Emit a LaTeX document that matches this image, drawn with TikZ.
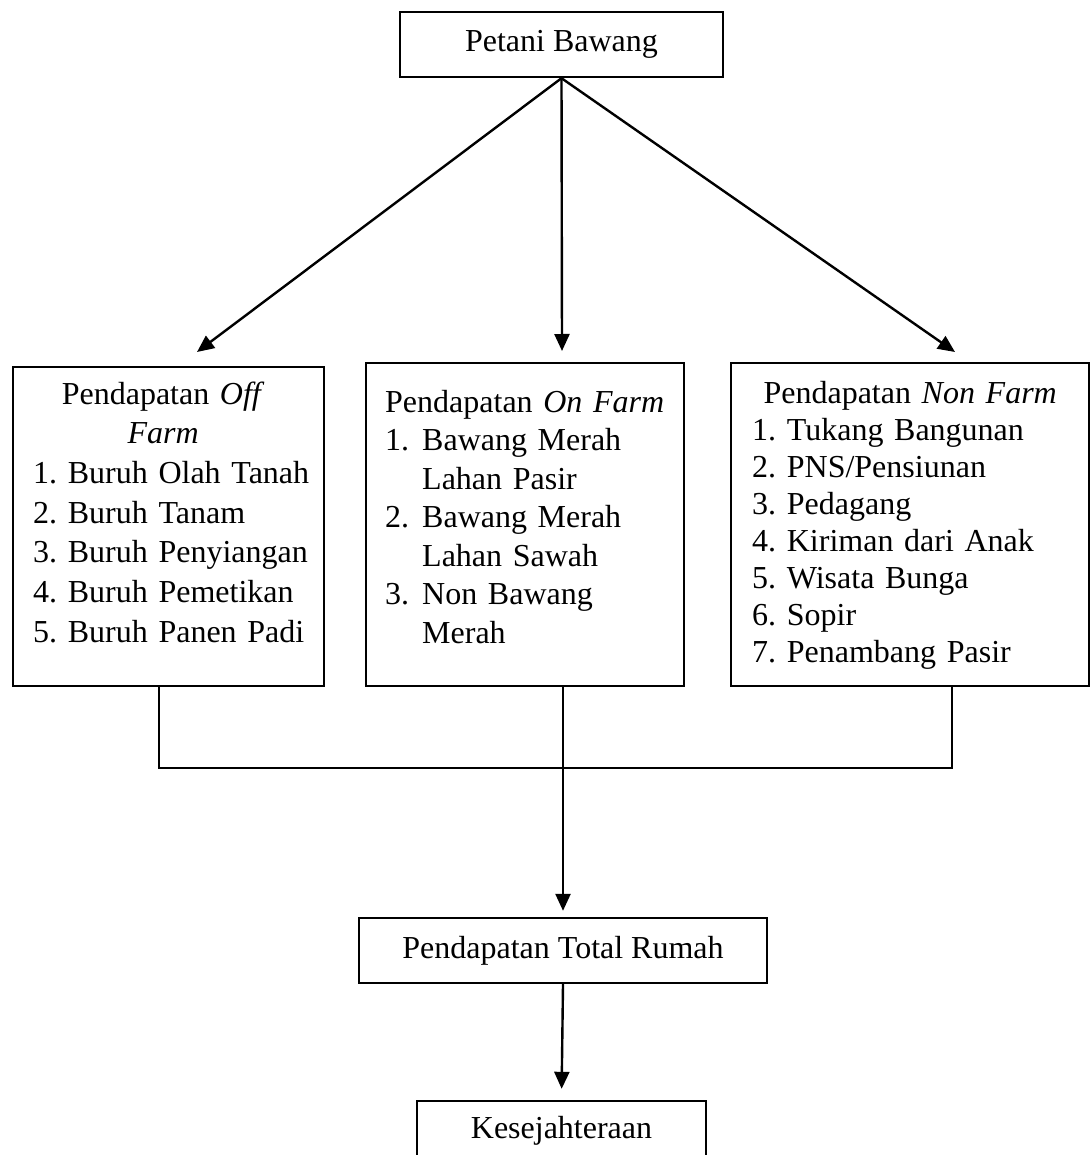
\documentclass[tikz,border=0pt]{standalone}
\usepackage{fontspec}
\setmainfont{Liberation Serif}
\usetikzlibrary{positioning,calc,arrows.meta}
\tikzset{ARROW/.style={line width=2.4pt, -{Triangle[length=17pt,width=15pt]}}}
\tikzset{LINE/.style={line width=2.4pt}}
\tikzset{BOX/.style={rectangle, draw, line width=2.4pt, inner sep=0pt, text height=22pt, text depth=7pt}}
\tikzset{LIST/.style={inner sep=0pt, anchor=base west, align=left}}
\newcommand{\numcell}[1]{\makebox[37pt][l]{#1}}

\begin{document}
\frenchspacing
\begin{tikzpicture}[x=1pt, y=-1pt, font=\fontsize{32}{39}\selectfont]
    \useasboundingbox (0,0) rectangle (1090,1155);
    \clip (0,0) rectangle (1090,1155);

    \node[BOX, minimum width=323pt, minimum height=65pt] (n_top) at (561.5,44.5) {Petani Bawang};

    % three income boxes
    \node[BOX, minimum width=311pt, minimum height=319pt, anchor=north west] (n_off) at (12,366) {};
    \node[BOX, minimum width=318pt, minimum height=323pt, anchor=north west] (n_on) at (365,362) {};
    \node[BOX, minimum width=358pt, minimum height=323pt, anchor=north west] (n_non) at (730,362) {};

    \node[LIST, text width=290pt, font=\fontsize{32}{39.7}\selectfont] (t_off) at (33,404) {
        \makebox[260pt]{Pendapatan \textit{Off}}\\
        \makebox[260pt]{\textit{Farm}}\\
        1. Buruh Olah Tanah\\
        2. Buruh Tanam\\
        3. Buruh Penyiangan\\
        4. Buruh Pemetikan\\
        5. Buruh Panen Padi
    };
    \node[LIST, text width=300pt, font=\fontsize{32}{38.5}\selectfont] (t_on) at (385,412) {
        Pendapatan \textit{On Farm}\\
        \numcell{1.}Bawang Merah\\
        \numcell{}Lahan Pasir\\
        \numcell{2.}Bawang Merah\\
        \numcell{}Lahan Sawah\\
        \numcell{3.}Non Bawang\\
        \numcell{}Merah
    };
    \node[LIST, text width=330pt, font=\fontsize{32}{37}\selectfont] (t_non) at (752,403) {
        \makebox[316pt]{Pendapatan \textit{Non Farm}}\\
        1. Tukang Bangunan\\
        2. PNS/Pensiunan\\
        3. Pedagang\\
        4. Kiriman dari Anak\\
        5. Wisata Bunga\\
        6. Sopir\\
        7. Penambang Pasir
    };

    \node[BOX, minimum width=408pt, minimum height=65pt] (n_total) at (563,950.5) {Pendapatan Total Rumah};
    \node[BOX, minimum width=289pt, minimum height=59pt] (n_welfare) at (561.5,1130.5) {Kesejahteraan};

    % arrows down from the farmer box
    \coordinate (tip_off) at (197,352);
    \coordinate (tip_on) at (562,351);
    \coordinate (tip_non) at (955,352);
    \draw[ARROW] (n_top.south) -- (tip_off);
    \draw[ARROW] (n_top.south) -- (tip_on);
    \draw[ARROW] (n_top.south) -- (tip_non);

    % joining line under the boxes
    \coordinate (join_l) at (159,768);
    \coordinate (join_r) at (952,768);
    \draw[LINE] (join_l |- n_off.south) -- (join_l) -- (join_r) -- (join_r |- n_non.south);
    \draw[ARROW, shorten >=6pt] (n_total.north |- n_on.south) -- (n_total.north);
    \draw[ARROW, shorten >=11pt] (n_total.south) -- (n_welfare.north);

\end{tikzpicture}
\end{document}
